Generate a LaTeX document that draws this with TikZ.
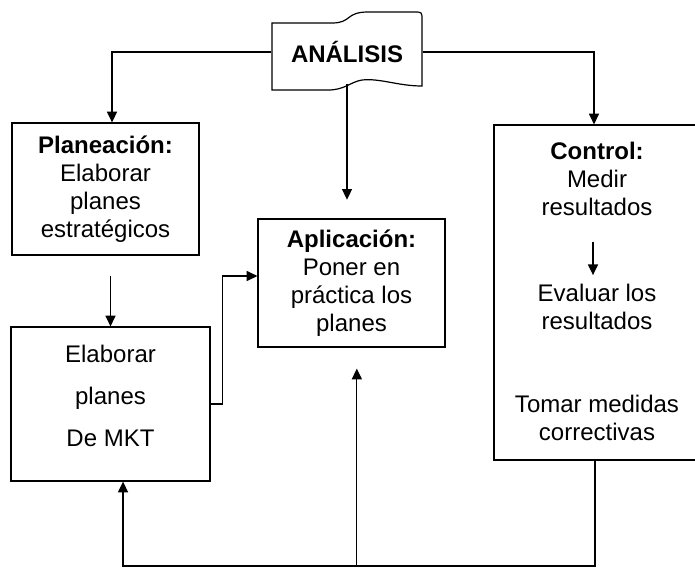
\documentclass[tikz,border=0pt]{standalone}
\usepackage{fontspec}
\setmainfont{Liberation Sans}
\usetikzlibrary{arrows.meta}

\begin{document}
\begin{tikzpicture}[x=0.75pt, y=-0.75pt,
    line width=0.9pt,
    every node/.style={font=\fontsize{18}{21}\selectfont, align=center},
    caja/.style={draw, inner sep=0pt},
    texto/.style={inner sep=0pt},
    flecha/.style={-{Triangle[length=8pt, width=7.5pt]}}]
  \useasboundingbox (0,0) rectangle (695,569);

  % Banner
  \draw[fill=white] (272,23) -- (332,23) .. controls (352,23) and (345,12) .. (368,12) -- (414,12)
      .. controls (422,12) .. (422,20) -- (422,86) .. controls (398,86) and (380,78) .. (362,80)
      .. controls (350,82) and (345,90) .. (328,90) -- (272,90) -- cycle;
  \node[texto, font=\fontsize{18}{21}\selectfont\bfseries, minimum width=112.5pt, minimum height=46.5pt] (analisis) at (347,52) {ANÁLISIS};

  % Cajas
  \node[caja, minimum width=140.25pt, minimum height=99pt] (plan) at (105.5,189) {\textbf{Planeación:}\\Elaborar\\planes\\estratégicos};
  \node[caja, minimum width=149.25pt, minimum height=115.5pt] (mkt) at (110.5,404) {};
  \node[texto] (mkttxt) at (110.5,396) {Elaborar\\[10.5pt]planes\\[10.5pt]De MKT};
  \node[caja, minimum width=140.25pt, minimum height=96pt] (apl) at (351.5,283) {\textbf{Aplicación:}\\Poner en\\práctica los\\planes};

  % Control
  \node[caja, minimum width=154.5pt, minimum height=251.25pt] (ctrl) at (597,292.5) {};
  \node[texto] (cmed) at (597,179) {\textbf{Control:}\\Medir\\resultados};
  \node[texto] (ceval) at (597,306.5) {Evaluar los\\resultados};
  \node[texto] (ctomar) at (597,418) {Tomar medidas\\correctivas};

  \coordinate (base) at (0,566);

  % Conectores
  \draw[flecha] (analisis.west) -| ([xshift=4.9pt]plan.north);
  \draw[flecha] (analisis.east) -| ([xshift=-2.25pt]ctrl.north);
  \draw[flecha, shorten >=14pt] (analisis.south) -- (analisis.south |- apl.north);
  \draw[flecha, shorten <=15pt] (plan.south -| mkt.north) -- (mkt.north);
  \draw[flecha] (mkt.east) -- ++(12,0) |- ([yshift=5.25pt]apl.west);
  \draw[flecha, shorten <=19pt, shorten >=6pt] ([xshift=-3pt]cmed.south) -- ([xshift=-3pt]cmed.south |- ceval.north);

  % Retorno
  \draw[flecha] ([xshift=-1.5pt]ctrl.south) -- ([xshift=-1.5pt]ctrl.south |- base) -| ([xshift=9.4pt]mkt.south);
  \draw[flecha, shorten >=15.75pt] ([xshift=4pt]apl.south |- base) -- ([xshift=4pt]apl.south);
\end{tikzpicture}
\end{document}
